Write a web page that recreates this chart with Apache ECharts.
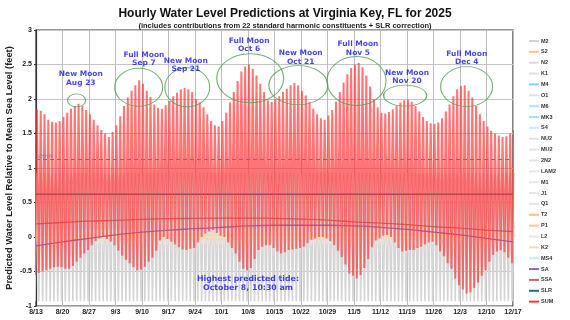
<!DOCTYPE html>
<html>
<head>
<meta charset="utf-8">
<script src="https://cdn.jsdelivr.net/npm/echarts@6/dist/echarts.min.js"></script>
<style>
  html, body { margin: 0; padding: 0; background: #fff; }
  #main { width: 570px; height: 320px; }
</style>
</head>
<body>
<div id="main"></div>
<script>
// day 0 = Aug 13, 2025; one row = one week
let startDay = '2025-08-13';

// daily higher-high of the summed prediction (ft)
let dailyHigh = [
  1.85, 1.83, 1.78, 1.70, 1.67, 1.66, 1.68,
  1.74, 1.80, 1.86, 1.90, 1.93, 1.90, 1.84,
  1.78, 1.70, 1.62, 1.55, 1.50, 1.45, 1.52,
  1.62, 1.75, 1.90, 2.02, 2.12, 2.20, 2.27,
  2.22, 2.12, 2.03, 1.92, 1.87, 1.86, 1.91,
  1.97, 2.04, 2.09, 2.14, 2.16, 2.14, 2.10,
  2.00, 1.95, 1.88, 1.78, 1.68, 1.62, 1.60,
  1.68, 1.80, 1.95, 2.10, 2.26, 2.40, 2.47,
  2.50, 2.44, 2.34, 2.22, 2.10, 1.98, 1.96,
  2.00, 2.04, 2.10, 2.15, 2.20, 2.23, 2.20,
  2.12, 2.05, 1.96, 1.86, 1.78, 1.72, 1.70,
  1.76, 1.84, 1.96, 2.10, 2.24, 2.36, 2.45,
  2.50, 2.52, 2.46, 2.34, 2.18, 2.00, 1.88,
  1.80, 1.79, 1.81, 1.85, 1.90, 1.95, 1.98,
  1.99, 1.96, 1.90, 1.82, 1.74, 1.68, 1.65,
  1.64, 1.66, 1.72, 1.82, 1.92, 2.04, 2.14,
  2.19, 2.20, 2.12, 2.02, 1.90, 1.78, 1.68,
  1.60, 1.54, 1.50, 1.47, 1.45, 1.46, 1.50,
  1.55
];

// daily lower-low of the summed prediction (ft)
let dailyLow = [
  -0.55, -0.52, -0.50, -0.48, -0.46, -0.44, -0.43,
  -0.44, -0.46, -0.46, -0.42, -0.36, -0.30, -0.24,
  -0.19, -0.12, -0.06, -0.02, 0.00, -0.03, -0.07,
  -0.12, -0.20, -0.27, -0.33, -0.38, -0.44, -0.48,
  -0.47, -0.43, -0.36, -0.30, -0.20, -0.05, 0.00,
  -0.03, -0.07, -0.11, -0.15, -0.18, -0.19, -0.17,
  -0.16, -0.08, 0.00, 0.05, 0.08, 0.10, 0.06,
  0.02, 0.00, -0.08, -0.16, -0.24, -0.36, -0.46,
  -0.48, -0.45, -0.32, -0.19, -0.14, -0.12, -0.12,
  -0.16, -0.21, -0.24, -0.22, -0.19, -0.18, -0.17,
  -0.16, -0.14, -0.09, -0.04, -0.02, 0.00, 0.00,
  -0.02, -0.06, -0.12, -0.20, -0.29, -0.40, -0.53,
  -0.56, -0.60, -0.55, -0.45, -0.32, -0.15, -0.05,
  -0.02, 0.02, 0.03, 0.00, -0.08, -0.16, -0.21,
  -0.20, -0.19, -0.19, -0.16, -0.14, -0.11, -0.08,
  -0.07, -0.12, -0.21, -0.28, -0.38, -0.46, -0.60,
  -0.70, -0.76, -0.82, -0.80, -0.74, -0.66, -0.56,
  -0.48, -0.36, -0.26, -0.21, -0.19, -0.22, -0.30,
  -0.38
];

// slow components, one value per weekly tick
let saWeekly  = [-0.13, -0.07, -0.02, 0.03, 0.07, 0.10, 0.12, 0.14, 0.16, 0.17, 0.17, 0.17, 0.16, 0.14, 0.11, 0.07, 0.03, -0.02, -0.07];
let ssaWeekly = [0.19, 0.21, 0.23, 0.24, 0.255, 0.265, 0.27, 0.275, 0.275, 0.27, 0.26, 0.245, 0.22, 0.20, 0.18, 0.15, 0.13, 0.10, 0.08];
let slrLevel = 0.62;
let mhhwLevel = 1.12;

// harmonic constituents and their amplitudes (ft)
let constituents = ['M2','S2','N2','K1','M4','O1','M6','MK3','S4','NU2','MU2','2N2','LAM2','M1','J1','Q1','T2','P1','L2','K2','MS4'];
let amplitudes   = [0.93, 0.17, 0.22, 0.12, 0.03, 0.10, 0.01, 0.01, 0.01, 0.04, 0.03, 0.03, 0.01, 0.01, 0.01, 0.02, 0.01, 0.04, 0.03, 0.05, 0.01];

// moon phase notes
let moonText  = ['New Moon\nAug 23', 'Full Moon\nSep 7', 'New Moon\nSep 21', 'Full Moon\nOct 6', 'New Moon\nOct 21', 'Full Moon\nNov 5', 'New Moon\nNov 20', 'Full Moon\nDec 4'];
let moonPeak  = ['2025-08-23T17:00', '2025-09-09T03:00', '2025-09-21T23:00', '2025-10-08T14:00', '2025-10-21T07:00', '2025-11-05T16:00', '2025-11-18T12:00', '2025-12-04T18:00'];
let moonLevel = [1.98, 2.17, 2.17, 2.30, 2.20, 2.26, 2.05, 2.18];
let noteTime  = ['2025-08-24T20:00', '2025-09-10T12:00', '2025-09-21T14:00', '2025-10-08T07:00', '2025-10-21T22:00', '2025-11-06T01:00', '2025-11-19T00:00', '2025-12-04T19:00'];
let noteLevel = [2.30, 2.58, 2.49, 2.78, 2.60, 2.73, 2.32, 2.59];
let highestNote = { time: '2025-10-08T00:00', level: -0.67, text: 'Highest predicted tide:\nOctober 8, 10:30 am' };

const colors = {
    M2: '#d4d4d4', S2: '#f5c68c', N2: '#dadada', K1: '#e0e0e0', M4: '#7fd3ea', O1: '#e2e2e2',
    M6: '#aee6f5', MK3: '#a3e2f3', S4: '#c4eef9', NU2: '#e4e4e4', MU2: '#e6e6e6', '2N2': '#e4e4e4',
    LAM2: '#e8e8e8', M1: '#e8e8e8', J1: '#e8e8e8', Q1: '#e4e4e4', T2: '#f3c07c', P1: '#f6c6a2',
    L2: '#e6e6e6', K2: '#fbd9b4', MS4: '#c6ecf7', SA: '#8d6cb3', SSA: '#c26b6b', SLR: '#1f6e8c', SUM: '#ff3434'
};
const ellipseSize = [[18, 13], [48, 38], [45, 39], [67, 49], [59, 39], [59, 49], [43, 21], [52, 40]];

const DAY = 86400000;
const t0 = new Date(startDay + 'T00:00').getTime();
function dayOf(s) {
    return (new Date(s).getTime() - t0) / DAY;
}
function tickLabel(d) {
    const date = new Date(t0 + Math.round(d) * DAY);
    return (date.getMonth() + 1) + '/' + date.getDate();
}

function tideLine(high, low) {
    let pts = [];
    for (let d = 0; d < high.length; d++) {
        pts.push([d - 0.25, low[d]]);
        pts.push([d + 0.25, high[d]]);
    }
    return pts;
}

let series = [];
constituents.forEach((name, i) => {
    let a = amplitudes[i];
    let hi = dailyHigh.map(() => a);
    let lo = dailyHigh.map(() => -a);
    let s = {
        name: name,
        type: 'line',
        data: tideLine(hi, lo),
        showSymbol: false,
        color: colors[name],
        lineStyle: { width: name === 'M2' ? 1.6 : 1.3 },
        silent: true
    };
    if (name === 'M2') {
        s.markLine = {
            silent: true,
            symbol: 'none',
            data: [{ yAxis: mhhwLevel }],
            lineStyle: { color: '#8a6a6a', type: [4, 3], width: 1 },
            label: { position: 'insideStartTop', formatter: 'MHHW', fontSize: 5, color: '#888', distance: 1 }
        };
    }
    series.push(s);
});

series.push({
    name: 'SA', type: 'line', smooth: true, showSymbol: false, color: colors.SA,
    lineStyle: { width: 1.3 }, data: saWeekly.map((v, i) => [i * 7, v])
});
series.push({
    name: 'SSA', type: 'line', smooth: true, showSymbol: false, color: colors.SSA,
    lineStyle: { width: 1.3 }, data: ssaWeekly.map((v, i) => [i * 7, v])
});
series.push({
    name: 'SLR', type: 'line', showSymbol: false, color: colors.SLR,
    lineStyle: { width: 1.6 }, data: [[0, slrLevel], [126, slrLevel]]
});
series.push({
    name: 'SUM', type: 'line', showSymbol: false, color: colors.SUM,
    lineStyle: { width: 2, opacity: 0.68 }, data: tideLine(dailyHigh, dailyLow)
});

// green rings round the spring/neap peaks
series.push({
    type: 'scatter', silent: true, z: 5,
    data: moonPeak.map((t, i) => ({ value: [dayOf(t), moonLevel[i]], symbolSize: ellipseSize[i] })),
    symbol: 'circle',
    itemStyle: { color: 'rgba(0,0,0,0)', borderColor: '#4f9f4f', borderWidth: 1 }
});
// moon notes
series.push({
    type: 'scatter', silent: true, z: 6, symbolSize: 0,
    data: noteTime.map((t, i) => ({ value: [dayOf(t), noteLevel[i]], label: { formatter: moonText[i] } })),
    label: {
        show: true, position: 'inside', color: '#1515e0', fontSize: 7.5, fontWeight: 'bold',
        fontFamily: 'DejaVu Sans', lineHeight: 8.5, align: 'center'
    }
});
series.push({
    type: 'scatter', silent: true, z: 6, symbolSize: 0,
    data: [{ value: [dayOf(highestNote.time), highestNote.level], label: { formatter: highestNote.text } }],
    label: {
        show: true, position: 'inside', color: '#1515e0', fontSize: 7.8, fontWeight: 'bold',
        fontFamily: 'DejaVu Sans', lineHeight: 9.5, align: 'center'
    }
});

const legendNames = constituents.concat(['SA', 'SSA', 'SLR', 'SUM']);

const option = {
    animation: false,
    backgroundColor: '#fff',
    title: {
        text: 'Hourly Water Level Predictions at Virginia Key, FL for 2025',
        subtext: '(includes contributions from 22 standard harmonic constituents + SLR correction)',
        left: 'center',
        top: 3,
        itemGap: 2,
        textStyle: { fontSize: 12, fontWeight: 'bold', color: '#111', fontFamily: 'Liberation Sans' },
        subtextStyle: { fontSize: 7.5, fontWeight: 'bold', color: '#222', fontFamily: 'Liberation Sans' }
    },
    legend: {
        data: legendNames,
        orient: 'vertical',
        left: 524,
        top: 32,
        itemWidth: 10,
        itemHeight: 2,
        icon: 'rect',
        itemGap: 2.86,
        textStyle: { fontSize: 5.5, fontWeight: 'bold', color: '#333', lineHeight: 8, fontFamily: 'Liberation Sans', padding: [0, 0, 0, -3] },
        selectedMode: false
    },
    grid: {
        left: 36, right: 57, top: 30, bottom: 14,
        containLabel: false,
        outerBoundsMode: 'none',
        show: true, borderColor: '#333', borderWidth: 1.2
    },
    xAxis: {
        type: 'value',
        min: 0, max: 126, interval: 7,
        axisLine: { lineStyle: { color: '#333', width: 1.2 } },
        axisTick: { show: true, length: 2, lineStyle: { color: '#333' } },
        axisLabel: { formatter: tickLabel, fontSize: 7, fontWeight: 'bold', color: '#222', margin: 3, fontFamily: 'Liberation Sans' },
        splitLine: { lineStyle: { color: '#bdbdbd', width: 1 } }
    },
    yAxis: {
        type: 'value',
        min: -1, max: 3, interval: 0.5,
        name: 'Predicted Water Level Relative to Mean Sea Level (feet)',
        nameLocation: 'middle',
        nameGap: 22,
        nameMoveOverlap: false,
        nameTextStyle: { fontSize: 9.3, fontWeight: 'bold', color: '#222', fontFamily: 'Liberation Sans' },
        axisLine: { show: true, lineStyle: { color: '#333', width: 1.2 } },
        axisTick: { show: true, length: 2, lineStyle: { color: '#333' } },
        axisLabel: { fontSize: 7, fontWeight: 'bold', color: '#222', margin: 4, fontFamily: 'Liberation Sans' },
        splitLine: { lineStyle: { color: '#c4c4c4', width: 1 } }
    },
    series: series
};

let plot = echarts.init(document.querySelector('#main'));
plot.setOption(option);
</script>
</body>
</html>
